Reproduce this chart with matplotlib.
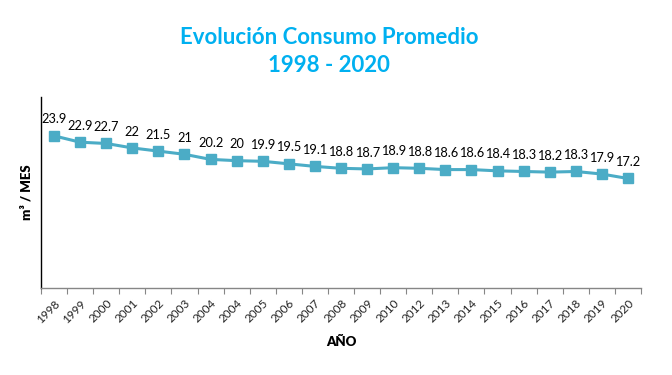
import matplotlib
matplotlib.use("Agg")
import matplotlib.pyplot as plt
import numpy as np

years = ["1998", "1999", "2000", "2001", "2002", "2003", "2004", "2004", "2005",
         "2006", "2007", "2008", "2009", "2010", "2012", "2013", "2014", "2015",
         "2016", "2017", "2018", "2019", "2020"]
values = [23.9, 22.9, 22.7, 22, 21.5, 21, 20.2, 20, 19.9, 19.5, 19.1, 18.8,
          18.7, 18.9, 18.8, 18.6, 18.6, 18.4, 18.3, 18.2, 18.3, 17.9, 17.2]
labels = ["23.9", "22.9", "22.7", "22", "21.5", "21", "20.2", "20", "19.9", "19.5",
          "19.1", "18.8", "18.7", "18.9", "18.8", "18.6", "18.6", "18.4", "18.3",
          "18.2", "18.3", "17.9", "17.2"]

plt.rcParams['font.family'] = ['Lato', 'DejaVu Sans']

fig = plt.figure(figsize=(6.72, 3.75), dpi=100)
ax = fig.add_axes([41/672, 1 - 288/375, 600/672, (288 - 97)/375])

x = np.arange(len(values))
line_color = "#4BACC6"
ax.plot(x, values, color=line_color, lw=2.2, marker="s", markersize=6.8,
        markerfacecolor=line_color, markeredgecolor=line_color, zorder=3)

for xi, v, lab in zip(x, values, labels):
    ax.annotate(lab, (xi, v), xytext=(0, 7.5), textcoords="offset points",
                ha="center", va="bottom", fontsize=9.2, color="black")

ax.set_xlim(-0.5, len(values) - 0.5)
ax.set_ylim(0, 30)

ax.set_xticks(x)
ax.set_xticklabels(years, rotation=45, ha="right", rotation_mode="anchor",
                   fontsize=8.5, color="#222222")
ax.tick_params(axis="x", which="major", length=0, pad=7)
ax.set_xticks(np.arange(-0.5, len(values), 1.0), minor=True)
ax.tick_params(axis="x", which="minor", length=4, color="#868686", width=0.8)
ax.set_yticks([])

for s in ["top", "right"]:
    ax.spines[s].set_visible(False)
ax.spines["left"].set_color("black")
ax.spines["left"].set_linewidth(1.0)
ax.spines["bottom"].set_color("#868686")
ax.spines["bottom"].set_linewidth(1.0)

ax.set_ylabel("m³ / MES", fontsize=9.5, fontweight="heavy", labelpad=6)
ax.set_xlabel("AÑO", fontsize=9.5, fontweight="heavy", labelpad=8)

fig.text(0.49, 1 - 38/375, "Evolución Consumo Promedio", ha="center", va="center",
         fontsize=16, fontweight="bold", color="#00B0F0")
fig.text(0.49, 1 - 65/375, "1998 - 2020", ha="center", va="center",
         fontsize=16, fontweight="bold", color="#00B0F0")

fig.savefig("out.png", dpi=100)
